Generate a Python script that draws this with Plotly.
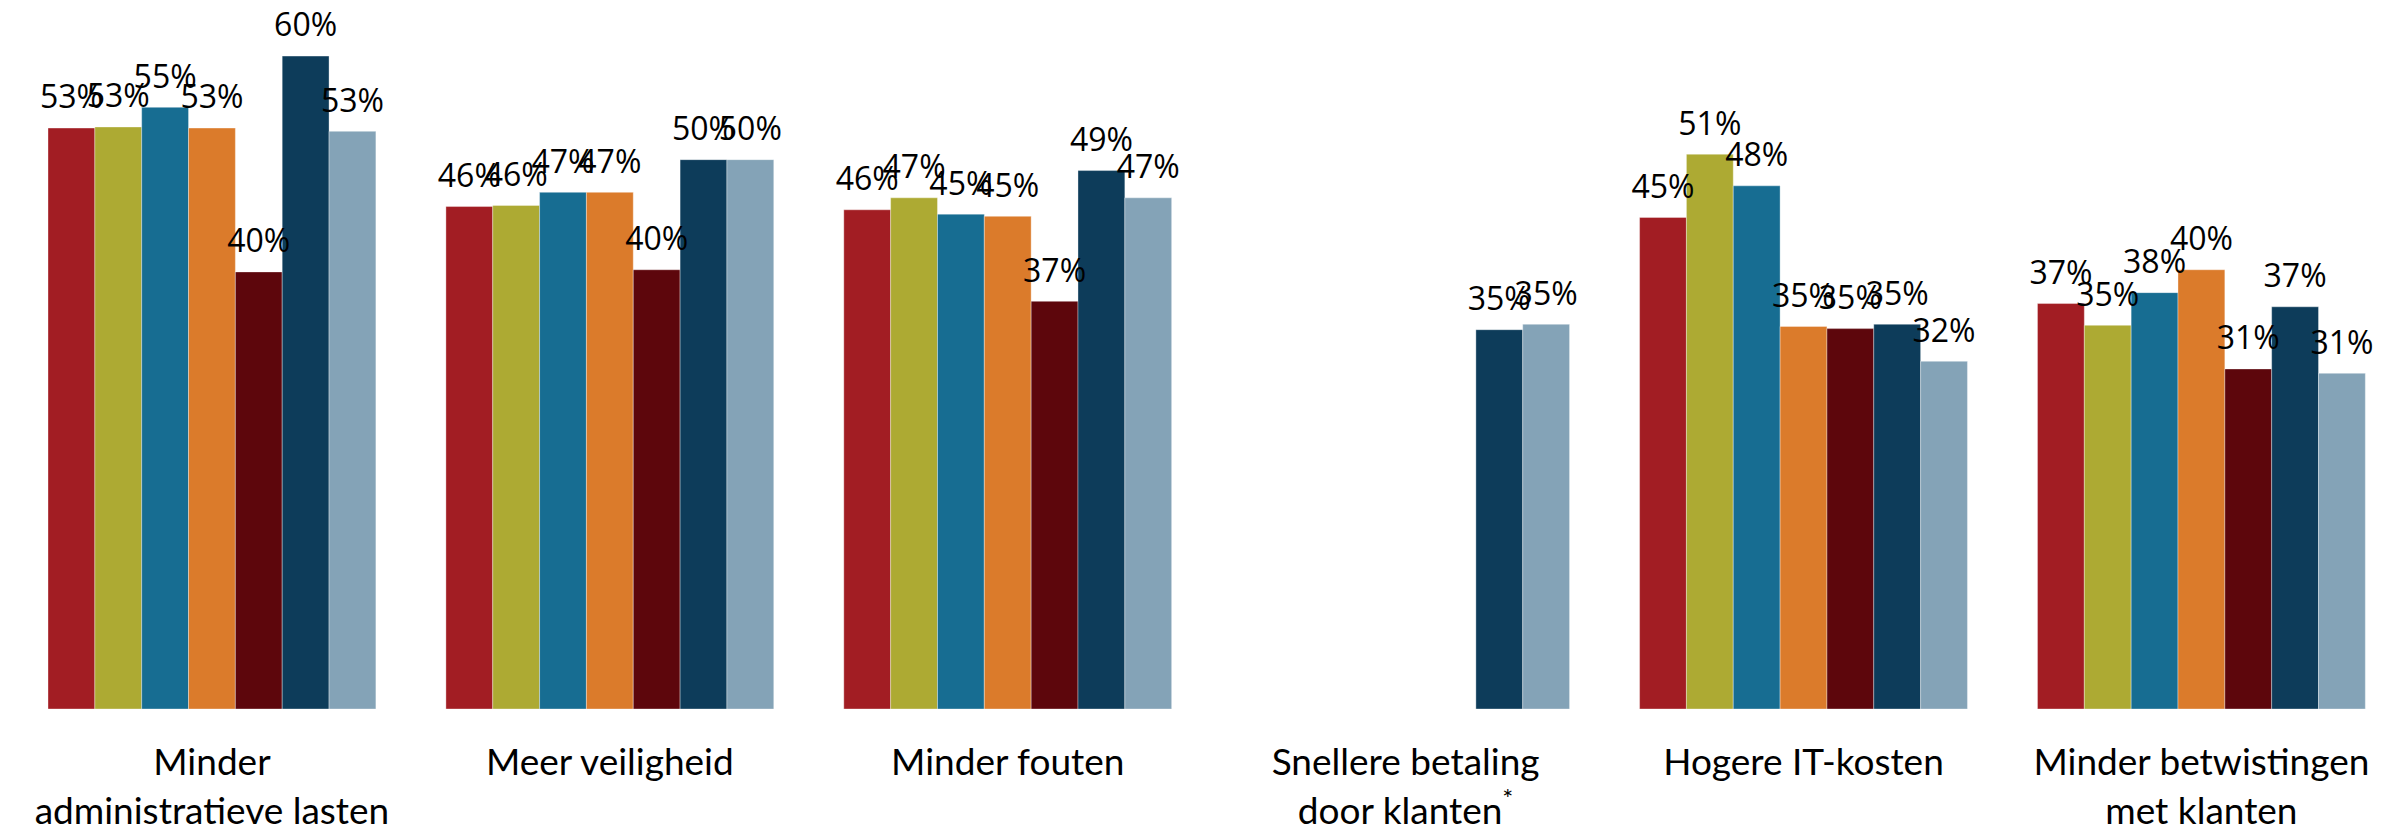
import plotly.graph_objects as go

categories = [
    "Minder<br>administratieve lasten",
    "Meer veiligheid",
    "Minder fouten",
    "Snellere betaling<br>door klanten<sup>*</sup>",
    "Hogere IT-kosten",
    "Minder betwistingen<br>met klanten",
]

series_names = ["Serie 1", "Serie 2", "Serie 3", "Serie 4", "Serie 5", "Serie 6", "Serie 7"]
serie_1 = [53.3, 46.1, 45.8, None, 45.1, 37.2]
serie_2 = [53.4, 46.2, 46.9, None, 50.9, 35.2]
serie_3 = [55.2, 47.4, 45.4, None, 48.0, 38.2]
serie_4 = [53.3, 47.4, 45.2, None, 35.1, 40.3]
serie_5 = [40.1, 40.3, 37.4, None, 34.9, 31.2]
serie_6 = [59.9, 50.4, 49.4, 34.8, 35.3, 36.9]
serie_7 = [53.0, 50.4, 46.9, 35.3, 31.9, 30.8]

colors = ["#A21D23", "#ADAA33", "#176D92", "#DB7B2B", "#5D060C", "#0D3C5A", "#84A3B7"]

all_series = [serie_1, serie_2, serie_3, serie_4, serie_5, serie_6, serie_7]

fig = go.Figure()
for name, vals, col in zip(series_names, all_series, colors):
    fig.add_trace(go.Bar(
        name=name, x=categories, y=vals,
        marker=dict(color=col, line=dict(color="rgba(255,255,255,0.35)", width=1)),
        hoverinfo="skip",
    ))
for name, vals, col in zip(series_names, all_series, colors):
    fig.add_trace(go.Scatter(
        name=name + " label", x=categories, y=vals,
        mode="markers+text",
        marker=dict(size=17, color="rgba(0,0,0,0)"),
        texttemplate="%{y:.0f}%",
        textposition="top center",
        textfont=dict(family="'Open Sans', Lato, sans-serif", size=32, color="#000000"),
        hoverinfo="skip",
        cliponaxis=False,
    ))

fig.update_layout(
    width=2392, height=826,
    barmode="group", bargap=0.176, bargroupgap=0,
    scattermode="group", scattergap=0.176,
    showlegend=False,
    plot_bgcolor="white", paper_bgcolor="white",
    margin=dict(l=13, r=0, t=11, b=117),
    xaxis=dict(
        type="category", range=[-0.5, 5.479], automargin=False,
        showgrid=False, zeroline=False, showline=False,
        ticks="outside", ticklen=21, tickcolor="rgba(0,0,0,0)",
        tickfont=dict(family="Lato, 'Open Sans', sans-serif", size=37, color="#000000"),
    ),
    yaxis=dict(
        range=[0, 64.04], visible=False, showgrid=False, zeroline=False, automargin=False,
    ),
)

fig.write_html(
    "out.html",
    config={"displayModeBar": False},
    post_script="document.body.style.margin='0';document.body.style.overflow='hidden';",
)
